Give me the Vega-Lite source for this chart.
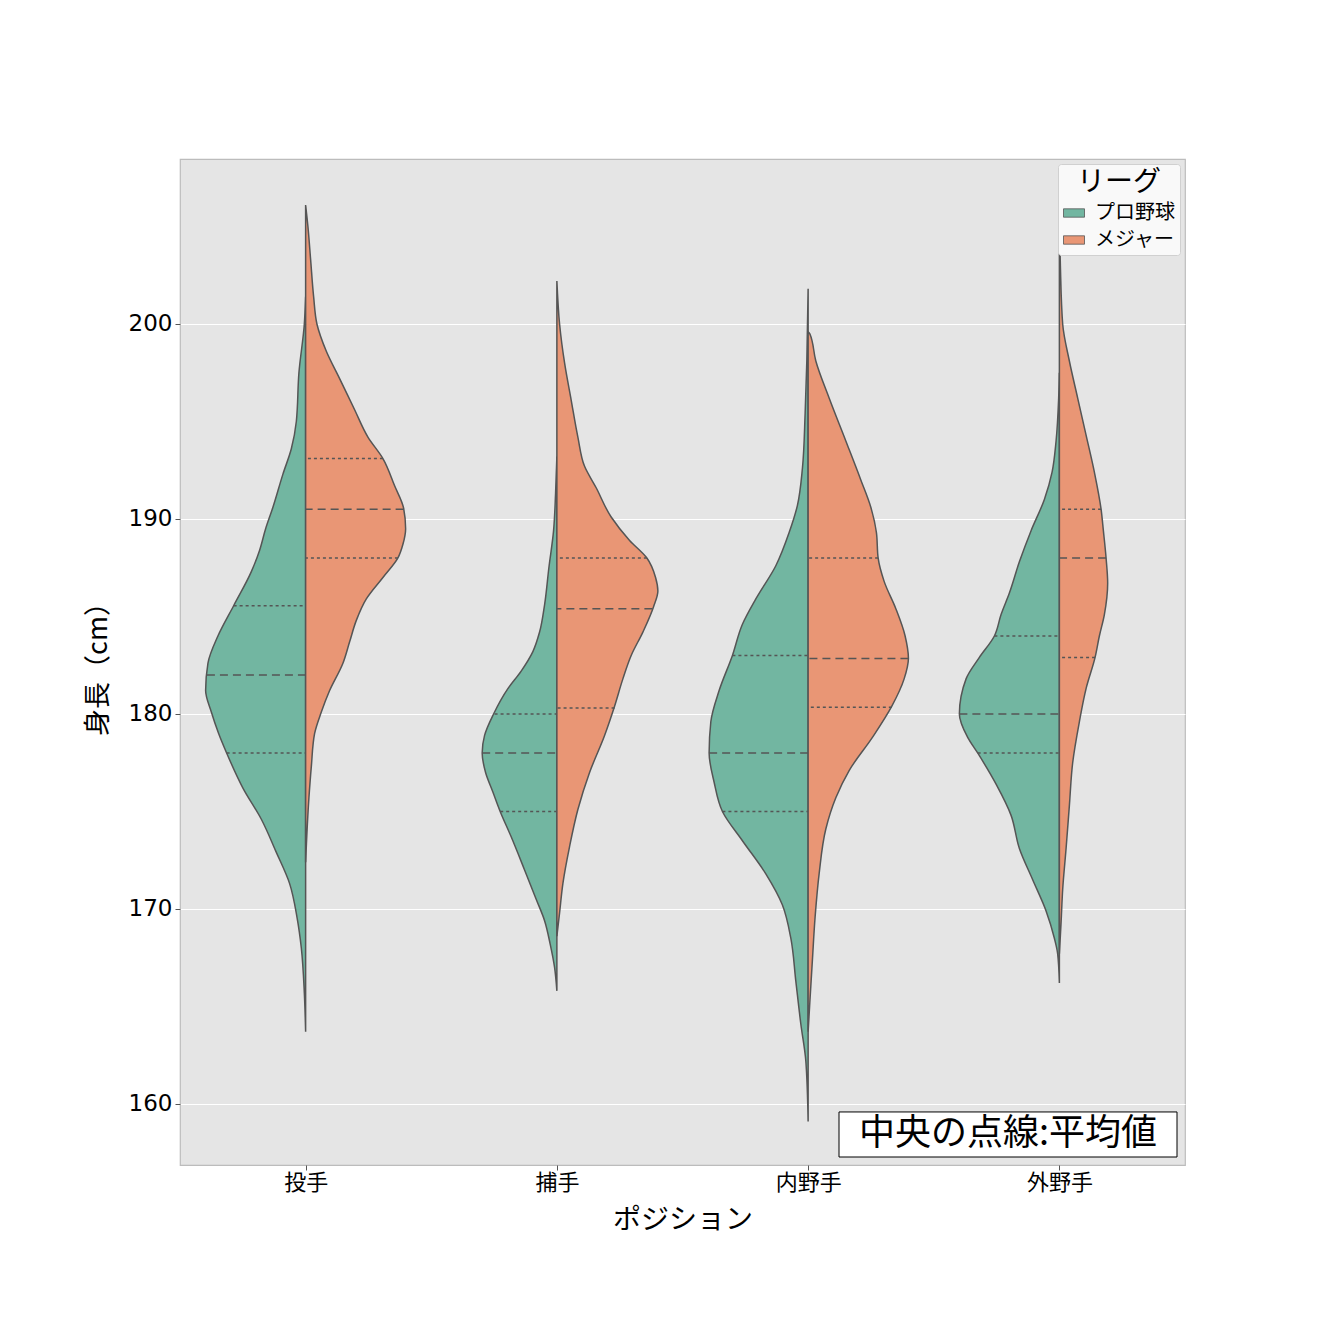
{
  "$schema": "https://vega.github.io/schema/vega-lite/v6.json",
  "padding": {"left": 84, "top": 159, "right": 5, "bottom": 5},
  "background": "white",
  "width": 1005,
  "height": 1006,
  "data": {"values": [
    {"position":"投手","league":"プロ野球","kind":"outline","height":201.4,"density":0},
    {"position":"投手","league":"プロ野球","kind":"outline","height":200,"density":0.0013},
    {"position":"投手","league":"プロ野球","kind":"outline","height":197.5,"density":0.0067},
    {"position":"投手","league":"プロ野球","kind":"outline","height":195,"density":0.0093},
    {"position":"投手","league":"プロ野球","kind":"outline","height":193.6,"density":0.0143},
    {"position":"投手","league":"プロ野球","kind":"outline","height":192.3,"density":0.0227},
    {"position":"投手","league":"プロ野球","kind":"outline","height":190.6,"density":0.0327},
    {"position":"投手","league":"プロ野球","kind":"outline","height":189.5,"density":0.04},
    {"position":"投手","league":"プロ野球","kind":"outline","height":188.4,"density":0.046},
    {"position":"投手","league":"プロ野球","kind":"outline","height":187.3,"density":0.0543},
    {"position":"投手","league":"プロ野球","kind":"outline","height":185.55,"density":0.072},
    {"position":"投手","league":"プロ野球","kind":"outline","height":184,"density":0.0877},
    {"position":"投手","league":"プロ野球","kind":"outline","height":182.6,"density":0.0977},
    {"position":"投手","league":"プロ野球","kind":"outline","height":181.2,"density":0.1},
    {"position":"投手","league":"プロ野球","kind":"outline","height":180.1,"density":0.0943},
    {"position":"投手","league":"プロ野球","kind":"outline","height":179,"density":0.087},
    {"position":"投手","league":"プロ野球","kind":"outline","height":178,"density":0.079},
    {"position":"投手","league":"プロ野球","kind":"outline","height":176.2,"density":0.0627},
    {"position":"投手","league":"プロ野球","kind":"outline","height":174.6,"density":0.0443},
    {"position":"投手","league":"プロ野球","kind":"outline","height":172.9,"density":0.0293},
    {"position":"投手","league":"プロ野球","kind":"outline","height":171.3,"density":0.016},
    {"position":"投手","league":"プロ野球","kind":"outline","height":169.6,"density":0.0087},
    {"position":"投手","league":"プロ野球","kind":"outline","height":168,"density":0.0043},
    {"position":"投手","league":"プロ野球","kind":"outline","height":165.7,"density":0.0013},
    {"position":"投手","league":"プロ野球","kind":"outline","height":163.7,"density":0},
    {"position":"投手","league":"メジャー","kind":"outline","height":206.1,"density":0},
    {"position":"投手","league":"メジャー","kind":"outline","height":205,"density":0.0023},
    {"position":"投手","league":"メジャー","kind":"outline","height":203.3,"density":0.005},
    {"position":"投手","league":"メジャー","kind":"outline","height":201.4,"density":0.008},
    {"position":"投手","league":"メジャー","kind":"outline","height":200,"density":0.0113},
    {"position":"投手","league":"メジャー","kind":"outline","height":198.6,"density":0.0207},
    {"position":"投手","league":"メジャー","kind":"outline","height":197.2,"density":0.034},
    {"position":"投手","league":"メジャー","kind":"outline","height":195.6,"density":0.049},
    {"position":"投手","league":"メジャー","kind":"outline","height":194.2,"density":0.0623},
    {"position":"投手","league":"メジャー","kind":"outline","height":193.1,"density":0.0773},
    {"position":"投手","league":"メジャー","kind":"outline","height":191.7,"density":0.089},
    {"position":"投手","league":"メジャー","kind":"outline","height":190.55,"density":0.098},
    {"position":"投手","league":"メジャー","kind":"outline","height":189.5,"density":0.1},
    {"position":"投手","league":"メジャー","kind":"outline","height":188.7,"density":0.0973},
    {"position":"投手","league":"メジャー","kind":"outline","height":188,"density":0.0923},
    {"position":"投手","league":"メジャー","kind":"outline","height":187,"density":0.0773},
    {"position":"投手","league":"メジャー","kind":"outline","height":185.9,"density":0.0607},
    {"position":"投手","league":"メジャー","kind":"outline","height":184.8,"density":0.0507},
    {"position":"投手","league":"メジャー","kind":"outline","height":183.7,"density":0.044},
    {"position":"投手","league":"メジャー","kind":"outline","height":182.6,"density":0.0373},
    {"position":"投手","league":"メジャー","kind":"outline","height":181.2,"density":0.024},
    {"position":"投手","league":"メジャー","kind":"outline","height":180.1,"density":0.0157},
    {"position":"投手","league":"メジャー","kind":"outline","height":179,"density":0.009},
    {"position":"投手","league":"メジャー","kind":"outline","height":177.3,"density":0.0057},
    {"position":"投手","league":"メジャー","kind":"outline","height":175.7,"density":0.0033},
    {"position":"投手","league":"メジャー","kind":"outline","height":172.4,"density":0},
    {"position":"捕手","league":"プロ野球","kind":"outline","height":193.2,"density":0},
    {"position":"捕手","league":"プロ野球","kind":"outline","height":191.3,"density":0.0013},
    {"position":"捕手","league":"プロ野球","kind":"outline","height":189.4,"density":0.0033},
    {"position":"捕手","league":"プロ野球","kind":"outline","height":187.5,"density":0.008},
    {"position":"捕手","league":"プロ野球","kind":"outline","height":185.6,"density":0.0123},
    {"position":"捕手","league":"プロ野球","kind":"outline","height":184.2,"density":0.0173},
    {"position":"捕手","league":"プロ野球","kind":"outline","height":183.2,"density":0.024},
    {"position":"捕手","league":"プロ野球","kind":"outline","height":182.2,"density":0.0357},
    {"position":"捕手","league":"プロ野球","kind":"outline","height":181.3,"density":0.049},
    {"position":"捕手","league":"プロ野球","kind":"outline","height":180,"density":0.0633},
    {"position":"捕手","league":"プロ野球","kind":"outline","height":178.9,"density":0.0723},
    {"position":"捕手","league":"プロ野球","kind":"outline","height":178,"density":0.0747},
    {"position":"捕手","league":"プロ野球","kind":"outline","height":177,"density":0.0713},
    {"position":"捕手","league":"プロ野球","kind":"outline","height":176,"density":0.064},
    {"position":"捕手","league":"プロ野球","kind":"outline","height":175,"density":0.0567},
    {"position":"捕手","league":"プロ野球","kind":"outline","height":173.7,"density":0.0457},
    {"position":"捕手","league":"プロ野球","kind":"outline","height":172,"density":0.0323},
    {"position":"捕手","league":"プロ野球","kind":"outline","height":170.5,"density":0.0207},
    {"position":"捕手","league":"プロ野球","kind":"outline","height":169.4,"density":0.0123},
    {"position":"捕手","league":"プロ野球","kind":"outline","height":168.2,"density":0.0067},
    {"position":"捕手","league":"プロ野球","kind":"outline","height":167,"density":0.0023},
    {"position":"捕手","league":"プロ野球","kind":"outline","height":165.8,"density":0},
    {"position":"捕手","league":"メジャー","kind":"outline","height":202.2,"density":0},
    {"position":"捕手","league":"メジャー","kind":"outline","height":200,"density":0.0027},
    {"position":"捕手","league":"メジャー","kind":"outline","height":198,"density":0.0077},
    {"position":"捕手","league":"メジャー","kind":"outline","height":196.1,"density":0.0143},
    {"position":"捕手","league":"メジャー","kind":"outline","height":194.2,"density":0.021},
    {"position":"捕手","league":"メジャー","kind":"outline","height":192.7,"density":0.0277},
    {"position":"捕手","league":"メジャー","kind":"outline","height":191.6,"density":0.0393},
    {"position":"捕手","league":"メジャー","kind":"outline","height":190.1,"density":0.0543},
    {"position":"捕手","league":"メジャー","kind":"outline","height":188.9,"density":0.0727},
    {"position":"捕手","league":"メジャー","kind":"outline","height":188,"density":0.09},
    {"position":"捕手","league":"メジャー","kind":"outline","height":187,"density":0.0987},
    {"position":"捕手","league":"メジャー","kind":"outline","height":186.3,"density":0.101},
    {"position":"捕手","league":"メジャー","kind":"outline","height":185.5,"density":0.0967},
    {"position":"捕手","league":"メジャー","kind":"outline","height":184.2,"density":0.086},
    {"position":"捕手","league":"メジャー","kind":"outline","height":183,"density":0.0743},
    {"position":"捕手","league":"メジャー","kind":"outline","height":181.8,"density":0.066},
    {"position":"捕手","league":"メジャー","kind":"outline","height":180.4,"density":0.0577},
    {"position":"捕手","league":"メジャー","kind":"outline","height":178.9,"density":0.0477},
    {"position":"捕手","league":"メジャー","kind":"outline","height":177,"density":0.0327},
    {"position":"捕手","league":"メジャー","kind":"outline","height":175.1,"density":0.021},
    {"position":"捕手","league":"メジャー","kind":"outline","height":173.2,"density":0.0127},
    {"position":"捕手","league":"メジャー","kind":"outline","height":171.3,"density":0.006},
    {"position":"捕手","league":"メジャー","kind":"outline","height":169.8,"density":0.0027},
    {"position":"捕手","league":"メジャー","kind":"outline","height":168.6,"density":0},
    {"position":"内野手","league":"プロ野球","kind":"outline","height":201.8,"density":0},
    {"position":"内野手","league":"プロ野球","kind":"outline","height":198.1,"density":0.0013},
    {"position":"内野手","league":"プロ野球","kind":"outline","height":195.4,"density":0.003},
    {"position":"内野手","league":"プロ野球","kind":"outline","height":192.6,"density":0.0057},
    {"position":"内野手","league":"プロ野球","kind":"outline","height":190.7,"density":0.0107},
    {"position":"内野手","league":"プロ野球","kind":"outline","height":189.3,"density":0.019},
    {"position":"内野手","league":"プロ野球","kind":"outline","height":187.6,"density":0.0323},
    {"position":"内野手","league":"プロ野球","kind":"outline","height":185.9,"density":0.0523},
    {"position":"内野手","league":"プロ野球","kind":"outline","height":184.6,"density":0.0657},
    {"position":"内野手","league":"プロ野球","kind":"outline","height":183,"density":0.0757},
    {"position":"内野手","league":"プロ野球","kind":"outline","height":181.2,"density":0.089},
    {"position":"内野手","league":"プロ野球","kind":"outline","height":179.6,"density":0.0973},
    {"position":"内野手","league":"プロ野球","kind":"outline","height":178,"density":0.099},
    {"position":"内野手","league":"プロ野球","kind":"outline","height":176.5,"density":0.094},
    {"position":"内野手","league":"プロ野球","kind":"outline","height":175,"density":0.0857},
    {"position":"内野手","league":"プロ野球","kind":"outline","height":173.5,"density":0.0657},
    {"position":"内野手","league":"プロ野球","kind":"outline","height":171.8,"density":0.0423},
    {"position":"内野手","league":"プロ野球","kind":"outline","height":170.2,"density":0.0257},
    {"position":"内野手","league":"プロ野球","kind":"outline","height":168.5,"density":0.0173},
    {"position":"内野手","league":"プロ野球","kind":"outline","height":166.3,"density":0.0123},
    {"position":"内野手","league":"プロ野球","kind":"outline","height":164.1,"density":0.0073},
    {"position":"内野手","league":"プロ野球","kind":"outline","height":162.2,"density":0.0023},
    {"position":"内野手","league":"プロ野球","kind":"outline","height":159.1,"density":0},
    {"position":"内野手","league":"メジャー","kind":"outline","height":199.6,"density":0},
    {"position":"内野手","league":"メジャー","kind":"outline","height":199.5,"density":0.0017},
    {"position":"内野手","league":"メジャー","kind":"outline","height":198.1,"density":0.0077},
    {"position":"内野手","league":"メジャー","kind":"outline","height":196.2,"density":0.021},
    {"position":"内野手","league":"メジャー","kind":"outline","height":194,"density":0.0377},
    {"position":"内野手","league":"メジャー","kind":"outline","height":192,"density":0.0527},
    {"position":"内野手","league":"メジャー","kind":"outline","height":190.6,"density":0.0627},
    {"position":"内野手","league":"メジャー","kind":"outline","height":189.3,"density":0.0683},
    {"position":"内野手","league":"メジャー","kind":"outline","height":188,"density":0.07},
    {"position":"内野手","league":"メジャー","kind":"outline","height":186.8,"density":0.076},
    {"position":"内野手","league":"メジャー","kind":"outline","height":185.4,"density":0.0877},
    {"position":"内野手","league":"メジャー","kind":"outline","height":184,"density":0.097},
    {"position":"内野手","league":"メジャー","kind":"outline","height":182.85,"density":0.1003},
    {"position":"内野手","league":"メジャー","kind":"outline","height":181.8,"density":0.096},
    {"position":"内野手","league":"メジャー","kind":"outline","height":180.4,"density":0.0837},
    {"position":"内野手","league":"メジャー","kind":"outline","height":178.8,"density":0.0643},
    {"position":"内野手","league":"メジャー","kind":"outline","height":177.1,"density":0.041},
    {"position":"内野手","league":"メジャー","kind":"outline","height":175.7,"density":0.0277},
    {"position":"内野手","league":"メジャー","kind":"outline","height":174.1,"density":0.0177},
    {"position":"内野手","league":"メジャー","kind":"outline","height":171.8,"density":0.011},
    {"position":"内野手","league":"メジャー","kind":"outline","height":169.6,"density":0.007},
    {"position":"内野手","league":"メジャー","kind":"outline","height":167.4,"density":0.0043},
    {"position":"内野手","league":"メジャー","kind":"outline","height":165.2,"density":0.0017},
    {"position":"内野手","league":"メジャー","kind":"outline","height":163.7,"density":0},
    {"position":"外野手","league":"プロ野球","kind":"outline","height":197.5,"density":0},
    {"position":"外野手","league":"プロ野球","kind":"outline","height":196.2,"density":0.0007},
    {"position":"外野手","league":"プロ野球","kind":"outline","height":194,"density":0.0033},
    {"position":"外野手","league":"プロ野球","kind":"outline","height":192.4,"density":0.0073},
    {"position":"外野手","league":"プロ野球","kind":"outline","height":191,"density":0.015},
    {"position":"外野手","league":"プロ野球","kind":"outline","height":189.4,"density":0.0283},
    {"position":"外野手","league":"プロ野球","kind":"outline","height":187.8,"density":0.04},
    {"position":"外野手","league":"プロ野球","kind":"outline","height":186.2,"density":0.05},
    {"position":"外野手","league":"プロ野球","kind":"outline","height":185.1,"density":0.0583},
    {"position":"外野手","league":"プロ野球","kind":"outline","height":184,"density":0.065},
    {"position":"外野手","league":"プロ野球","kind":"outline","height":182.9,"density":0.08},
    {"position":"外野手","league":"プロ野球","kind":"outline","height":181.8,"density":0.0933},
    {"position":"外野手","league":"プロ野球","kind":"outline","height":180,"density":0.1},
    {"position":"外野手","league":"プロ野球","kind":"outline","height":178.8,"density":0.0917},
    {"position":"外野手","league":"プロ野球","kind":"outline","height":178,"density":0.0817},
    {"position":"外野手","league":"プロ野球","kind":"outline","height":176.4,"density":0.0633},
    {"position":"外野手","league":"プロ野球","kind":"outline","height":174.8,"density":0.0483},
    {"position":"外野手","league":"プロ野球","kind":"outline","height":173.1,"density":0.04},
    {"position":"外野手","league":"プロ野球","kind":"outline","height":171.5,"density":0.0267},
    {"position":"外野手","league":"プロ野球","kind":"outline","height":169.9,"density":0.0133},
    {"position":"外野手","league":"プロ野球","kind":"outline","height":168.5,"density":0.005},
    {"position":"外野手","league":"プロ野球","kind":"outline","height":167.7,"density":0.0017},
    {"position":"外野手","league":"プロ野球","kind":"outline","height":166.2,"density":0},
    {"position":"外野手","league":"メジャー","kind":"outline","height":205.2,"density":0},
    {"position":"外野手","league":"メジャー","kind":"outline","height":203,"density":0.001},
    {"position":"外野手","league":"メジャー","kind":"outline","height":200,"density":0.0033},
    {"position":"外野手","league":"メジャー","kind":"outline","height":198.1,"density":0.01},
    {"position":"外野手","league":"メジャー","kind":"outline","height":196.2,"density":0.0183},
    {"position":"外野手","league":"メジャー","kind":"outline","height":194.3,"density":0.0267},
    {"position":"外野手","league":"メジャー","kind":"outline","height":192.4,"density":0.035},
    {"position":"外野手","league":"メジャー","kind":"outline","height":190.5,"density":0.0417},
    {"position":"外野手","league":"メジャー","kind":"outline","height":189.4,"density":0.044},
    {"position":"外野手","league":"メジャー","kind":"outline","height":188,"density":0.0467},
    {"position":"外野手","league":"メジャー","kind":"outline","height":186.7,"density":0.0483},
    {"position":"外野手","league":"メジャー","kind":"outline","height":185.1,"density":0.045},
    {"position":"外野手","league":"メジャー","kind":"outline","height":184,"density":0.04},
    {"position":"外野手","league":"メジャー","kind":"outline","height":182.9,"density":0.0357},
    {"position":"外野手","league":"メジャー","kind":"outline","height":181.3,"density":0.0267},
    {"position":"外野手","league":"メジャー","kind":"outline","height":179.6,"density":0.02},
    {"position":"外野手","league":"メジャー","kind":"outline","height":177.5,"density":0.0133},
    {"position":"外野手","league":"メジャー","kind":"outline","height":175.3,"density":0.01},
    {"position":"外野手","league":"メジャー","kind":"outline","height":173.1,"density":0.0067},
    {"position":"外野手","league":"メジャー","kind":"outline","height":171,"density":0.0033},
    {"position":"外野手","league":"メジャー","kind":"outline","height":169.3,"density":0.0017},
    {"position":"外野手","league":"メジャー","kind":"outline","height":167.7,"density":0},
    {"position":"投手","league":"プロ野球","kind":"q3","height":185.55,"density":0.072},
    {"position":"投手","league":"プロ野球","kind":"mean","height":182.0,"density":0.0987},
    {"position":"投手","league":"プロ野球","kind":"q1","height":178.0,"density":0.079},
    {"position":"投手","league":"メジャー","kind":"q3","height":193.1,"density":0.0773},
    {"position":"投手","league":"メジャー","kind":"mean","height":190.5,"density":0.098},
    {"position":"投手","league":"メジャー","kind":"q1","height":188.0,"density":0.0923},
    {"position":"捕手","league":"プロ野球","kind":"q3","height":180.0,"density":0.0623},
    {"position":"捕手","league":"プロ野球","kind":"mean","height":178.0,"density":0.0747},
    {"position":"捕手","league":"プロ野球","kind":"q1","height":175.0,"density":0.0567},
    {"position":"捕手","league":"メジャー","kind":"q3","height":188.0,"density":0.09},
    {"position":"捕手","league":"メジャー","kind":"mean","height":185.4,"density":0.0955},
    {"position":"捕手","league":"メジャー","kind":"q1","height":180.3,"density":0.0577},
    {"position":"内野手","league":"プロ野球","kind":"q3","height":183.0,"density":0.0757},
    {"position":"内野手","league":"プロ野球","kind":"mean","height":178.0,"density":0.099},
    {"position":"内野手","league":"プロ野球","kind":"q1","height":175.0,"density":0.0857},
    {"position":"内野手","league":"メジャー","kind":"q3","height":188.0,"density":0.07},
    {"position":"内野手","league":"メジャー","kind":"mean","height":182.85,"density":0.1003},
    {"position":"内野手","league":"メジャー","kind":"q1","height":180.35,"density":0.0837},
    {"position":"外野手","league":"プロ野球","kind":"q3","height":184.0,"density":0.065},
    {"position":"外野手","league":"プロ野球","kind":"mean","height":180.0,"density":0.1},
    {"position":"外野手","league":"プロ野球","kind":"q1","height":178.0,"density":0.0817},
    {"position":"外野手","league":"メジャー","kind":"q3","height":190.5,"density":0.0417},
    {"position":"外野手","league":"メジャー","kind":"mean","height":188.0,"density":0.0467},
    {"position":"外野手","league":"メジャー","kind":"q1","height":182.9,"density":0.0357}
  ]},
  "layer": [
    {
      "layer": [
        {
          "transform": [{"filter": "datum.league === 'メジャー' && datum.kind === 'mean'"}],
          "mark": {"type": "rule", "opacity": 0},
          "encoding": {
            "x": {"field": "position", "type": "nominal", "sort": ["投手", "捕手", "内野手", "外野手"],
                  "scale": {"type": "point", "padding": 0.5}, "title": "ポジション",
                  "axis": {"labelAngle": 0, "labelFontSize": 22, "labelFont": "Noto Sans CJK JP", "labelColor": "black",
                           "tickColor": "#555555", "tickSize": 5, "labelPadding": 2, "domain": false, "grid": false,
                           "titleFontSize": 28, "titleFont": "Noto Sans CJK JP", "titleFontWeight": "normal", "titleColor": "black", "titlePadding": 13}}
          }
        },
        {
          "transform": [{"filter": "datum.position === '投手' && datum.league === 'プロ野球'"}],
          "layer": [
            {"transform": [{"filter": "datum.kind === 'outline'"}],
             "mark": {"type": "area", "orient": "horizontal", "interpolate": "monotone", "stroke": "#555555", "strokeWidth": 1.5, "opacity": 1},
             "encoding": {
               "y": {"field": "height", "type": "quantitative", "title": "身長（cm）", "scale": {"domain": [156.87, 208.46], "nice": false, "zero": false},
                     "axis": {"values": [160, 170, 180, 190, 200]}},
               "x": {"field": "density", "type": "quantitative", "stack": null, "scale": {"domain": [-0.879375, 0.125625], "reverse": true, "nice": false, "zero": false}, "axis": null},
               "color": {"field": "league", "type": "nominal", "title": "リーグ", "scale": {"domain": ["プロ野球", "メジャー"], "range": ["#72b6a1", "#e99675"]}}
             }},
            {"transform": [{"filter": "datum.kind !== 'outline'"}],
             "mark": {"type": "rule", "stroke": "#555555", "strokeWidth": 1.5},
             "encoding": {
               "y": {"field": "height", "type": "quantitative", "title": "身長（cm）"},
               "x": {"field": "density", "type": "quantitative", "axis": null},
               "x2": {"datum": 0},
               "strokeDash": {"field": "kind", "type": "nominal", "scale": {"domain": ["q1", "mean", "q3"], "range": [[3, 3], [8, 5], [3, 3]]}, "legend": null}
             }}
          ]
        },
        {
          "transform": [{"filter": "datum.position === '投手' && datum.league === 'メジャー'"}],
          "layer": [
            {"transform": [{"filter": "datum.kind === 'outline'"}],
             "mark": {"type": "area", "orient": "horizontal", "interpolate": "monotone", "stroke": "#555555", "strokeWidth": 1.5, "opacity": 1},
             "encoding": {
               "y": {"field": "height", "type": "quantitative", "title": "身長（cm）"},
               "x": {"field": "density", "type": "quantitative", "stack": null, "scale": {"domain": [-0.125625, 0.879375], "nice": false, "zero": false}, "axis": null},
               "color": {"field": "league", "type": "nominal", "title": "リーグ"}
             }},
            {"transform": [{"filter": "datum.kind !== 'outline'"}],
             "mark": {"type": "rule", "stroke": "#555555", "strokeWidth": 1.5},
             "encoding": {
               "y": {"field": "height", "type": "quantitative", "title": "身長（cm）"},
               "x": {"field": "density", "type": "quantitative", "axis": null},
               "x2": {"datum": 0},
               "strokeDash": {"field": "kind", "type": "nominal", "legend": null}
             }}
          ]
        },
        {
          "transform": [{"filter": "datum.position === '捕手' && datum.league === 'プロ野球'"}],
          "layer": [
            {"transform": [{"filter": "datum.kind === 'outline'"}],
             "mark": {"type": "area", "orient": "horizontal", "interpolate": "monotone", "stroke": "#555555", "strokeWidth": 1.5, "opacity": 1},
             "encoding": {
               "y": {"field": "height", "type": "quantitative", "title": "身長（cm）"},
               "x": {"field": "density", "type": "quantitative", "stack": null, "scale": {"domain": [-0.628125, 0.376875], "reverse": true, "nice": false, "zero": false}, "axis": null},
               "color": {"field": "league", "type": "nominal", "title": "リーグ"}
             }},
            {"transform": [{"filter": "datum.kind !== 'outline'"}],
             "mark": {"type": "rule", "stroke": "#555555", "strokeWidth": 1.5},
             "encoding": {
               "y": {"field": "height", "type": "quantitative", "title": "身長（cm）"},
               "x": {"field": "density", "type": "quantitative", "axis": null},
               "x2": {"datum": 0},
               "strokeDash": {"field": "kind", "type": "nominal", "legend": null}
             }}
          ]
        },
        {
          "transform": [{"filter": "datum.position === '捕手' && datum.league === 'メジャー'"}],
          "layer": [
            {"transform": [{"filter": "datum.kind === 'outline'"}],
             "mark": {"type": "area", "orient": "horizontal", "interpolate": "monotone", "stroke": "#555555", "strokeWidth": 1.5, "opacity": 1},
             "encoding": {
               "y": {"field": "height", "type": "quantitative", "title": "身長（cm）"},
               "x": {"field": "density", "type": "quantitative", "stack": null, "scale": {"domain": [-0.376875, 0.628125], "nice": false, "zero": false}, "axis": null},
               "color": {"field": "league", "type": "nominal", "title": "リーグ"}
             }},
            {"transform": [{"filter": "datum.kind !== 'outline'"}],
             "mark": {"type": "rule", "stroke": "#555555", "strokeWidth": 1.5},
             "encoding": {
               "y": {"field": "height", "type": "quantitative", "title": "身長（cm）"},
               "x": {"field": "density", "type": "quantitative", "axis": null},
               "x2": {"datum": 0},
               "strokeDash": {"field": "kind", "type": "nominal", "legend": null}
             }}
          ]
        },
        {
          "transform": [{"filter": "datum.position === '内野手' && datum.league === 'プロ野球'"}],
          "layer": [
            {"transform": [{"filter": "datum.kind === 'outline'"}],
             "mark": {"type": "area", "orient": "horizontal", "interpolate": "monotone", "stroke": "#555555", "strokeWidth": 1.5, "opacity": 1},
             "encoding": {
               "y": {"field": "height", "type": "quantitative", "title": "身長（cm）"},
               "x": {"field": "density", "type": "quantitative", "stack": null, "scale": {"domain": [-0.376875, 0.628125], "reverse": true, "nice": false, "zero": false}, "axis": null},
               "color": {"field": "league", "type": "nominal", "title": "リーグ"}
             }},
            {"transform": [{"filter": "datum.kind !== 'outline'"}],
             "mark": {"type": "rule", "stroke": "#555555", "strokeWidth": 1.5},
             "encoding": {
               "y": {"field": "height", "type": "quantitative", "title": "身長（cm）"},
               "x": {"field": "density", "type": "quantitative", "axis": null},
               "x2": {"datum": 0},
               "strokeDash": {"field": "kind", "type": "nominal", "legend": null}
             }}
          ]
        },
        {
          "transform": [{"filter": "datum.position === '内野手' && datum.league === 'メジャー'"}],
          "layer": [
            {"transform": [{"filter": "datum.kind === 'outline'"}],
             "mark": {"type": "area", "orient": "horizontal", "interpolate": "monotone", "stroke": "#555555", "strokeWidth": 1.5, "opacity": 1},
             "encoding": {
               "y": {"field": "height", "type": "quantitative", "title": "身長（cm）"},
               "x": {"field": "density", "type": "quantitative", "stack": null, "scale": {"domain": [-0.628125, 0.376875], "nice": false, "zero": false}, "axis": null},
               "color": {"field": "league", "type": "nominal", "title": "リーグ"}
             }},
            {"transform": [{"filter": "datum.kind !== 'outline'"}],
             "mark": {"type": "rule", "stroke": "#555555", "strokeWidth": 1.5},
             "encoding": {
               "y": {"field": "height", "type": "quantitative", "title": "身長（cm）"},
               "x": {"field": "density", "type": "quantitative", "axis": null},
               "x2": {"datum": 0},
               "strokeDash": {"field": "kind", "type": "nominal", "legend": null}
             }}
          ]
        },
        {
          "transform": [{"filter": "datum.position === '外野手' && datum.league === 'プロ野球'"}],
          "layer": [
            {"transform": [{"filter": "datum.kind === 'outline'"}],
             "mark": {"type": "area", "orient": "horizontal", "interpolate": "monotone", "stroke": "#555555", "strokeWidth": 1.5, "opacity": 1},
             "encoding": {
               "y": {"field": "height", "type": "quantitative", "title": "身長（cm）"},
               "x": {"field": "density", "type": "quantitative", "stack": null, "scale": {"domain": [-0.125625, 0.879375], "reverse": true, "nice": false, "zero": false}, "axis": null},
               "color": {"field": "league", "type": "nominal", "title": "リーグ"}
             }},
            {"transform": [{"filter": "datum.kind !== 'outline'"}],
             "mark": {"type": "rule", "stroke": "#555555", "strokeWidth": 1.5},
             "encoding": {
               "y": {"field": "height", "type": "quantitative", "title": "身長（cm）"},
               "x": {"field": "density", "type": "quantitative", "axis": null},
               "x2": {"datum": 0},
               "strokeDash": {"field": "kind", "type": "nominal", "legend": null}
             }}
          ]
        },
        {
          "transform": [{"filter": "datum.position === '外野手' && datum.league === 'メジャー'"}],
          "layer": [
            {"transform": [{"filter": "datum.kind === 'outline'"}],
             "mark": {"type": "area", "orient": "horizontal", "interpolate": "monotone", "stroke": "#555555", "strokeWidth": 1.5, "opacity": 1},
             "encoding": {
               "y": {"field": "height", "type": "quantitative", "title": "身長（cm）"},
               "x": {"field": "density", "type": "quantitative", "stack": null, "scale": {"domain": [-0.879375, 0.125625], "nice": false, "zero": false}, "axis": null},
               "color": {"field": "league", "type": "nominal", "title": "リーグ"}
             }},
            {"transform": [{"filter": "datum.kind !== 'outline'"}],
             "mark": {"type": "rule", "stroke": "#555555", "strokeWidth": 1.5},
             "encoding": {
               "y": {"field": "height", "type": "quantitative", "title": "身長（cm）"},
               "x": {"field": "density", "type": "quantitative", "axis": null},
               "x2": {"datum": 0},
               "strokeDash": {"field": "kind", "type": "nominal", "legend": null}
             }}
          ]
        }
      ],
      "resolve": {"scale": {"x": "independent"}}
    },
    {
      "transform": [{"filter": "datum.position === '外野手' && datum.league === 'メジャー' && datum.kind === 'mean'"}],
      "layer": [
        {
          "mark": {"type": "rect", "fill": "white", "stroke": "black", "strokeWidth": 1},
          "encoding": {
            "x": {"datum": 0.659, "type": "quantitative", "scale": {"domain": [0, 1.005], "nice": false, "zero": false}, "axis": null},
            "x2": {"datum": 0.997},
            "y": {"datum": 159.59, "type": "quantitative", "scale": {"domain": [156.87, 208.46], "nice": false, "zero": false}, "axis": null},
            "y2": {"datum": 157.28}
          }
        },
        {
          "mark": {"type": "text", "text": "中央の点線:平均値", "font": "Noto Sans CJK JP", "fontSize": 36, "fontWeight": "normal", "color": "black", "align": "center", "baseline": "middle"},
          "encoding": {
            "x": {"datum": 0.828, "type": "quantitative"},
            "y": {"datum": 158.45, "type": "quantitative"}
          }
        }
      ]
    }
  ],
  "resolve": {"scale": {"x": "independent", "y": "independent"}},
  "config": {
    "view": {"fill": "#e5e5e5", "stroke": "#bcbcbc", "strokeWidth": 1.2},
    "axisY": {
      "labelFontSize": 23,
      "labelFont": "DejaVu Sans",
      "labelColor": "black",
      "tickColor": "#555555",
      "tickSize": 5,
      "labelPadding": 3,
      "gridColor": "white",
      "gridWidth": 1.2,
      "domain": false,
      "titleFontSize": 27,
      "titleFont": "Noto Sans CJK JP",
      "titleFontWeight": "normal",
      "titleColor": "black",
      "titlePadding": 16
    },
    "legend": {
      "orient": "top-right",
      "offset": 5,
      "fillColor": "#f9f9f9",
      "strokeColor": "#d0d0d0",
      "cornerRadius": 3,
      "padding": 5,
      "titleFontSize": 28,
      "titleFont": "Noto Sans CJK JP",
      "titleFontWeight": "normal",
      "titleColor": "black",
      "titleAnchor": "middle",
      "titlePadding": 5,
      "labelFontSize": 20,
      "labelFont": "Noto Sans CJK JP",
      "labelColor": "black",
      "labelOffset": 10,
      "symbolType": "M-1,-0.4H1V0.4H-1Z",
      "symbolSize": 441,
      "symbolStrokeColor": "#555555",
      "symbolStrokeWidth": 0.8,
      "rowPadding": 6
    }
  }
}
